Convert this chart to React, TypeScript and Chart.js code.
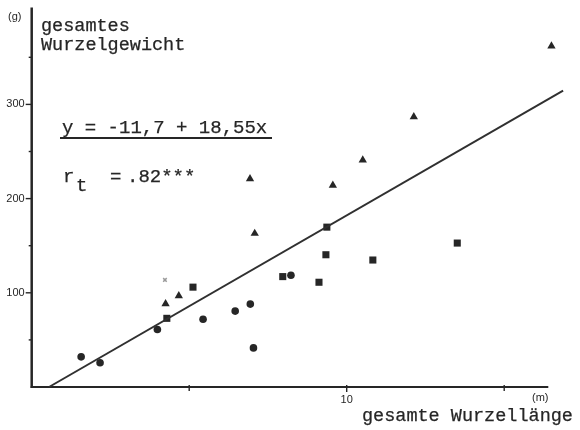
import { useEffect, useRef } from "react";
import { Chart, registerables } from "chart.js";

Chart.register(...registerables);

// ---- data ----
const circleX = [1.57, 2.17, 3.99, 5.44, 6.46, 6.94, 7.04, 8.23];
const circleY = [32, 25.7, 61, 72, 80.6, 88, 41.5, 118.6];
const squareX = [4.29, 5.12, 7.97, 9.12, 9.34, 9.37, 10.83, 13.51];
const squareY = [72.9, 106, 117.2, 111.2, 140.4, 169.7, 134.8, 152.8];
const triX = [4.25, 4.67, 6.93, 7.08, 9.56, 10.51, 12.13, 16.5];
const triY = [88.4, 96.8, 221, 163, 214, 240.8, 286.9, 361.9];
const otherX = [4.23];
const otherY = [113.7];
const regX = [0.55, 16.87];
const regY = [0, 314.7];

const xTicks = [5, 10, 15];
const xTickLabels = ["", "10", ""];
const yTicks = [50, 100, 150, 200, 250, 300, 350];
const yTickLabels = ["", "100", "", "200", "", "300", ""];
const X_AXIS_END = 16.4;
const Y_AXIS_END = 403;

const INK = "#262626";
const MONO = "'Liberation Mono', 'DejaVu Sans Mono', monospace";
const SMALL = "'Liberation Sans', 'DejaVu Sans', sans-serif";

const zip = (xs: number[], ys: number[]) => xs.map((x, i) => ({ x, y: ys[i] }));

function typeText(ctx: CanvasRenderingContext2D, s: string, x: number, y: number) {
  ctx.fillText(s, x, y);
  ctx.lineWidth = 0.25;
  ctx.strokeText(s, x, y);
}

const axisPlugin = {
  id: "handAxes",
  beforeDatasetsDraw(chart: any) {
    const { ctx, scales } = chart;
    const x = scales.x;
    const y = scales.y;
    const x0 = x.getPixelForValue(0);
    const y0 = y.getPixelForValue(0);
    ctx.save();
    ctx.strokeStyle = INK;
    ctx.lineCap = "butt";
    // y axis
    ctx.lineWidth = 2.5;
    ctx.beginPath();
    ctx.moveTo(x0, y0 + 1);
    ctx.lineTo(x0, y.getPixelForValue(Y_AXIS_END));
    ctx.stroke();
    // x axis
    ctx.lineWidth = 2;
    ctx.beginPath();
    ctx.moveTo(x0 - 1, y0);
    ctx.lineTo(x.getPixelForValue(X_AXIS_END), y0);
    ctx.stroke();
    // y ticks
    ctx.lineWidth = 1.4;
    ctx.fillStyle = INK;
    ctx.font = `11px ${SMALL}`;
    ctx.textAlign = "right";
    ctx.textBaseline = "middle";
    yTicks.forEach((v, i) => {
      const py = y.getPixelForValue(v);
      const lab = yTickLabels[i];
      ctx.beginPath();
      ctx.moveTo(x0 - (lab ? 6 : 3), py);
      ctx.lineTo(x0, py);
      ctx.stroke();
      if (lab) ctx.fillText(lab, x0 - 7, py);
    });
    // x ticks
    ctx.textAlign = "center";
    ctx.textBaseline = "top";
    ctx.font = `11px ${SMALL}`;
    xTicks.forEach((v, i) => {
      const px = x.getPixelForValue(v);
      const lab = xTickLabels[i];
      ctx.beginPath();
      ctx.moveTo(px, y0 - 2);
      ctx.lineTo(px, y0 + (lab ? 5 : 4));
      ctx.stroke();
      if (lab) ctx.fillText(lab, px, y0 + 7);
    });
    ctx.restore();
  },
  afterDraw(chart: any) {
    const { ctx } = chart;
    ctx.save();
    ctx.fillStyle = INK;
    ctx.strokeStyle = INK;
    ctx.textBaseline = "alphabetic";
    ctx.textAlign = "left";
    // units
    ctx.font = `11px ${SMALL}`;
    ctx.fillText("(g)", 8, 20);
    ctx.fillText("(m)", 532, 401);
    // axis titles
    ctx.font = `18.5px ${MONO}`;
    typeText(ctx, "gesamtes", 41, 31);
    typeText(ctx, "Wurzelgewicht", 41, 50);
    typeText(ctx, "gesamte Wurzellänge", 362, 421);
    // equation
    ctx.font = `19px ${MONO}`;
    typeText(ctx, "y = -11,7 + 18,55x", 62, 133);
    ctx.lineWidth = 1.8;
    ctx.beginPath();
    ctx.moveTo(60, 138);
    ctx.lineTo(272, 138);
    ctx.stroke();
    typeText(ctx, "r", 63, 182);
    typeText(ctx, "t", 76, 191);
    typeText(ctx, "=", 110, 182);
    typeText(ctx, ".82***", 127, 182);
    ctx.restore();
  },
};

export default function App() {
  const ref = useRef<HTMLCanvasElement>(null);
  useEffect(() => {
    const canvas = ref.current;
    if (!canvas) return;
    const chart = new Chart(canvas, {
      type: "scatter",
      data: {
        datasets: [
          {
            type: "line",
            data: zip(regX, regY),
            borderColor: "#303030",
            borderWidth: 2,
            pointRadius: 0,
            fill: false,
            clip: false,
          } as any,
          {
            data: zip(circleX, circleY),
            pointStyle: "circle",
            pointRadius: 3.8,
            backgroundColor: INK,
            borderColor: INK,
            borderWidth: 0,
            clip: false,
          } as any,
          {
            data: zip(squareX, squareY),
            pointStyle: "rect",
            pointRadius: 5,
            backgroundColor: INK,
            borderColor: INK,
            borderWidth: 0,
            clip: false,
          } as any,
          {
            data: zip(triX, triY),
            pointStyle: "triangle",
            pointRadius: 4.8,
            backgroundColor: INK,
            borderColor: INK,
            borderWidth: 0,
            clip: false,
          } as any,
          {
            data: zip(otherX, otherY),
            pointStyle: "crossRot",
            pointRadius: 2.5,
            backgroundColor: "#9a9a9a",
            borderColor: "#9a9a9a",
            borderWidth: 1.5,
            clip: false,
          } as any,
        ],
      },
      options: {
        animation: false,
        responsive: false,
        devicePixelRatio: 1,
        layout: { padding: { left: 31.7, right: 6.5, top: 3.5, bottom: 43 } },
        scales: {
          x: { type: "linear", min: 0, max: 17.2, display: false },
          y: { type: "linear", min: 0, max: 405, display: false },
        },
        plugins: {
          legend: { display: false },
          tooltip: { enabled: false },
        },
      },
      plugins: [axisPlugin],
    });
    return () => chart.destroy();
  }, []);
  return (
    <div
      style={{
        position: "fixed",
        left: 0,
        top: 0,
        width: 580,
        height: 430,
        background: "#fff",
      }}
    >
      <canvas ref={ref} width={580} height={430} style={{ display: "block" }} />
    </div>
  );
}
